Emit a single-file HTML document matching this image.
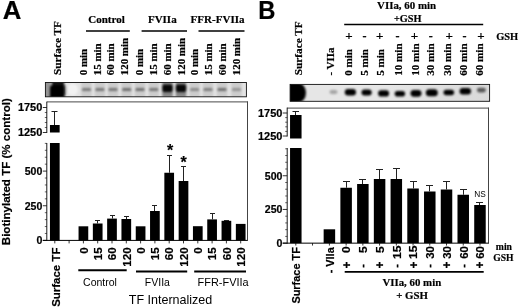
<!DOCTYPE html>
<html><head><meta charset="utf-8"><title>Figure</title>
<style>
html,body{margin:0;padding:0;background:#fff;}
svg{display:block;}
.sf{font-family:'Liberation Serif', serif;}
.ss{font-family:'Liberation Sans', sans-serif;}
.b{font-weight:bold;stroke:#000;stroke-width:0.2px;}
text{fill:#000;}
</style></head>
<body>
<svg width="520" height="308" viewBox="0 0 520 308">
<defs>
<filter id="blurA" x="-5%" y="-50%" width="110%" height="200%"><feGaussianBlur stdDeviation="1.1"/></filter>
<filter id="blurB" x="-5%" y="-50%" width="110%" height="200%"><feGaussianBlur stdDeviation="0.9"/></filter>
<linearGradient id="gB" x1="0" x2="1" y1="0" y2="0"><stop offset="0" stop-color="#e6e6e6"/><stop offset="0.5" stop-color="#e6e6e6"/><stop offset="1" stop-color="#d9d9d9"/></linearGradient>
<clipPath id="clipA"><rect x="45.4" y="82.5" width="201.0" height="14.3"/></clipPath>
<clipPath id="clipB"><rect x="290.1" y="84.4" width="199.5" height="16.9"/></clipPath>
</defs>
<rect x="0" y="0" width="520" height="308" fill="#fff"/>
<text class="ss b" x="2.8" y="19.0" font-size="25.3" text-anchor="start" textLength="18.6" lengthAdjust="spacingAndGlyphs">A</text>
<text class="sf b" transform="translate(60.5,75) rotate(-90)" font-size="11" text-anchor="start" textLength="54" lengthAdjust="spacingAndGlyphs">Surface TF</text>
<text class="sf b" transform="translate(87,75.2) rotate(-90)" font-size="10.9" text-anchor="start">0 min</text>
<text class="sf b" transform="translate(100.53,75.2) rotate(-90)" font-size="10.9" text-anchor="start">15 min</text>
<text class="sf b" transform="translate(114.46,75.2) rotate(-90)" font-size="10.9" text-anchor="start">60 min</text>
<text class="sf b" transform="translate(128.39,75.2) rotate(-90)" font-size="10.9" text-anchor="start">120 min</text>
<text class="sf b" transform="translate(142.72,75.2) rotate(-90)" font-size="10.9" text-anchor="start">0 min</text>
<text class="sf b" transform="translate(156.65,75.2) rotate(-90)" font-size="10.9" text-anchor="start">15 min</text>
<text class="sf b" transform="translate(170.58,75.2) rotate(-90)" font-size="10.9" text-anchor="start">60 min</text>
<text class="sf b" transform="translate(184.51,75.2) rotate(-90)" font-size="10.9" text-anchor="start">120 min</text>
<text class="sf b" transform="translate(198.04,75.2) rotate(-90)" font-size="10.9" text-anchor="start">0 min</text>
<text class="sf b" transform="translate(211.97,75.2) rotate(-90)" font-size="10.9" text-anchor="start">15 min</text>
<text class="sf b" transform="translate(225.9,75.2) rotate(-90)" font-size="10.9" text-anchor="start">60 min</text>
<text class="sf b" transform="translate(239.83,75.2) rotate(-90)" font-size="10.9" text-anchor="start">120 min</text>
<text class="sf b" x="106.5" y="23" font-size="11" text-anchor="middle">Control</text>
<text class="sf b" x="162.3" y="23" font-size="11" text-anchor="middle">FVIIa</text>
<text class="sf b" x="217.6" y="23" font-size="11" text-anchor="middle" textLength="54" lengthAdjust="spacingAndGlyphs">FFR-FVIIa</text>
<line x1="86" y1="31" x2="129.8" y2="31" stroke="#000" stroke-width="1.5"/>
<line x1="141.6" y1="31" x2="187" y2="31" stroke="#000" stroke-width="1.5"/>
<line x1="198.5" y1="31" x2="244.5" y2="31" stroke="#000" stroke-width="1.5"/>
<rect x="45.40" y="82.50" width="201.00" height="14.30" fill="#e3e3e3"/>
<g clip-path="url(#clipA)"><g filter="url(#blurA)">
<rect x="81.30" y="80" width="10.4" height="20" fill="#000" opacity="0.10"/>
<rect x="94.70" y="80" width="10.4" height="20" fill="#000" opacity="0.10"/>
<rect x="107.80" y="80" width="10.4" height="20" fill="#000" opacity="0.10"/>
<rect x="121.50" y="80" width="10.4" height="20" fill="#000" opacity="0.10"/>
<rect x="134.80" y="80" width="10.4" height="20" fill="#000" opacity="0.10"/>
<rect x="148.55" y="80" width="10.4" height="20" fill="#000" opacity="0.10"/>
<rect x="162.30" y="80" width="10.4" height="20" fill="#000" opacity="0.10"/>
<rect x="175.80" y="80" width="10.4" height="20" fill="#000" opacity="0.10"/>
<rect x="189.40" y="80" width="10.4" height="20" fill="#000" opacity="0.10"/>
<rect x="202.80" y="80" width="10.4" height="20" fill="#000" opacity="0.10"/>
<rect x="216.80" y="80" width="10.4" height="20" fill="#000" opacity="0.10"/>
<rect x="231.30" y="80" width="10.4" height="20" fill="#000" opacity="0.10"/>
<rect x="42" y="78" width="9" height="24" fill="#000" opacity="0.35"/>
<rect x="50" y="85" width="14.5" height="20" rx="3" fill="#000"/>
<rect x="52" y="78" width="12" height="12" rx="3" fill="#000" opacity="0.9"/>
<ellipse cx="63.5" cy="90" rx="3.5" ry="6" fill="#000" opacity="0.5"/>
<ellipse cx="72.5" cy="89.5" rx="5.5" ry="6" fill="#fff" opacity="0.55"/>
<rect x="81.90" y="88.1" width="9.2" height="3" rx="1.2" fill="#000" opacity="0.4"/>
<rect x="95.30" y="88.1" width="9.2" height="3" rx="1.2" fill="#000" opacity="0.42"/>
<rect x="108.40" y="88.1" width="9.2" height="3" rx="1.2" fill="#000" opacity="0.42"/>
<rect x="122.10" y="88.1" width="9.2" height="3" rx="1.2" fill="#000" opacity="0.45"/>
<rect x="135.40" y="88.1" width="9.2" height="3" rx="1.2" fill="#000" opacity="0.45"/>
<rect x="149.15" y="88.1" width="9.2" height="3" rx="1.2" fill="#000" opacity="0.42"/>
<rect x="162.20" y="84.5" width="10.6" height="7.5" rx="2" fill="#000" opacity="0.95"/>
<rect x="162.20" y="82" width="10.6" height="15" fill="#000" opacity="0.35"/>
<rect x="175.70" y="84.5" width="10.6" height="7.5" rx="2" fill="#000" opacity="0.95"/>
<rect x="175.70" y="82" width="10.6" height="15" fill="#000" opacity="0.35"/>
<rect x="190.00" y="88.1" width="9.2" height="3" rx="1.2" fill="#000" opacity="0.33"/>
<rect x="203.40" y="88.1" width="9.2" height="3" rx="1.2" fill="#000" opacity="0.38"/>
<rect x="217.40" y="88.1" width="9.2" height="3" rx="1.2" fill="#000" opacity="0.45"/>
<rect x="231.90" y="88.1" width="9.2" height="3" rx="1.2" fill="#000" opacity="0.28"/>
</g></g>
<rect x="45.4" y="82.5" width="201.0" height="14.3" fill="none" stroke="#111" stroke-width="0.9"/>
<line x1="46.8" y1="101.9" x2="248" y2="101.9" stroke="#333" stroke-width="0.9"/>
<line x1="247.5" y1="101.5" x2="247.5" y2="240.9" stroke="#444" stroke-width="1"/>
<line x1="46.8" y1="101.7" x2="46.8" y2="133.0" stroke="#000" stroke-width="0.9"/>
<line x1="46.8" y1="143" x2="46.8" y2="240.9" stroke="#000" stroke-width="0.9"/>
<line x1="42.8" y1="240.4" x2="247.4" y2="240.4" stroke="#000" stroke-width="1"/>
<line x1="42.8" y1="240.4" x2="46.8" y2="240.4" stroke="#000" stroke-width="0.8"/>
<line x1="44.8" y1="233.47" x2="46.8" y2="233.47" stroke="#000" stroke-width="0.6"/>
<line x1="44.8" y1="226.54" x2="46.8" y2="226.54" stroke="#000" stroke-width="0.6"/>
<line x1="44.8" y1="219.61" x2="46.8" y2="219.61" stroke="#000" stroke-width="0.6"/>
<line x1="44.8" y1="212.68" x2="46.8" y2="212.68" stroke="#000" stroke-width="0.6"/>
<line x1="42.8" y1="205.75" x2="46.8" y2="205.75" stroke="#000" stroke-width="0.8"/>
<line x1="44.8" y1="198.82" x2="46.8" y2="198.82" stroke="#000" stroke-width="0.6"/>
<line x1="44.8" y1="191.89" x2="46.8" y2="191.89" stroke="#000" stroke-width="0.6"/>
<line x1="44.8" y1="184.96" x2="46.8" y2="184.96" stroke="#000" stroke-width="0.6"/>
<line x1="44.8" y1="178.03" x2="46.8" y2="178.03" stroke="#000" stroke-width="0.6"/>
<line x1="42.8" y1="171.1" x2="46.8" y2="171.1" stroke="#000" stroke-width="0.8"/>
<line x1="44.8" y1="164.17" x2="46.8" y2="164.17" stroke="#000" stroke-width="0.6"/>
<line x1="44.8" y1="157.24" x2="46.8" y2="157.24" stroke="#000" stroke-width="0.6"/>
<line x1="44.8" y1="150.31" x2="46.8" y2="150.31" stroke="#000" stroke-width="0.6"/>
<line x1="44.8" y1="143.38" x2="46.8" y2="143.38" stroke="#000" stroke-width="0.6"/>
<line x1="42.8" y1="132.5" x2="46.8" y2="132.5" stroke="#000" stroke-width="0.8"/>
<line x1="44.8" y1="127.5" x2="46.8" y2="127.5" stroke="#000" stroke-width="0.6"/>
<line x1="44.8" y1="122.5" x2="46.8" y2="122.5" stroke="#000" stroke-width="0.6"/>
<line x1="44.8" y1="117.5" x2="46.8" y2="117.5" stroke="#000" stroke-width="0.6"/>
<line x1="44.8" y1="112.5" x2="46.8" y2="112.5" stroke="#000" stroke-width="0.6"/>
<line x1="42.8" y1="107.5" x2="46.8" y2="107.5" stroke="#000" stroke-width="0.8"/>
<text class="ss b" x="17.9" y="111.3" font-size="10.5" text-anchor="start" textLength="24.4" lengthAdjust="spacingAndGlyphs">1750</text>
<text class="ss b" x="17.9" y="136.3" font-size="10.5" text-anchor="start" textLength="24.4" lengthAdjust="spacingAndGlyphs">1250</text>
<text class="ss b" x="24.7" y="174.9" font-size="10.5" text-anchor="start" textLength="17.6" lengthAdjust="spacingAndGlyphs">500</text>
<text class="ss b" x="24.7" y="209.55" font-size="10.5" text-anchor="start" textLength="17.6" lengthAdjust="spacingAndGlyphs">250</text>
<text class="ss b" x="36.4" y="244.2" font-size="10.5" text-anchor="start" textLength="5.9" lengthAdjust="spacingAndGlyphs">0</text>
<text class="ss b" transform="translate(9.9,245.2) rotate(-90)" font-size="11" text-anchor="start" textLength="147.0" lengthAdjust="spacingAndGlyphs">Biotinylated TF (% control)</text>
<rect x="78.55" y="226.30" width="9.70" height="14.10" fill="#000"/>
<rect x="92.85" y="223.50" width="9.70" height="16.90" fill="#000"/>
<line x1="97.5" y1="220.5" x2="97.5" y2="223.5" stroke="#222" stroke-width="1"/>
<line x1="95.0" y1="220.5" x2="100.0" y2="220.5" stroke="#222" stroke-width="1"/>
<rect x="107.15" y="218.60" width="9.70" height="21.80" fill="#000"/>
<line x1="112.5" y1="215.5" x2="112.5" y2="218.6" stroke="#222" stroke-width="1"/>
<line x1="110.0" y1="215.5" x2="115.0" y2="215.5" stroke="#222" stroke-width="1"/>
<rect x="121.45" y="219.00" width="9.70" height="21.40" fill="#000"/>
<line x1="126.5" y1="216.5" x2="126.5" y2="219" stroke="#222" stroke-width="1"/>
<line x1="124.0" y1="216.5" x2="129.0" y2="216.5" stroke="#222" stroke-width="1"/>
<rect x="135.75" y="226.30" width="9.70" height="14.10" fill="#000"/>
<rect x="150.05" y="211.00" width="9.70" height="29.40" fill="#000"/>
<line x1="154.5" y1="205.5" x2="154.5" y2="211" stroke="#222" stroke-width="1"/>
<line x1="152.0" y1="205.5" x2="157.0" y2="205.5" stroke="#222" stroke-width="1"/>
<rect x="164.35" y="172.75" width="9.70" height="67.65" fill="#000"/>
<line x1="169.5" y1="155.5" x2="169.5" y2="172.75" stroke="#222" stroke-width="1"/>
<line x1="167.0" y1="155.5" x2="172.0" y2="155.5" stroke="#222" stroke-width="1"/>
<rect x="178.65" y="181.00" width="9.70" height="59.40" fill="#000"/>
<line x1="183.5" y1="166.5" x2="183.5" y2="181" stroke="#222" stroke-width="1"/>
<line x1="181.0" y1="166.5" x2="186.0" y2="166.5" stroke="#222" stroke-width="1"/>
<rect x="192.95" y="226.20" width="9.70" height="14.20" fill="#000"/>
<rect x="207.25" y="219.40" width="9.70" height="21.00" fill="#000"/>
<line x1="212.5" y1="213.5" x2="212.5" y2="219.4" stroke="#222" stroke-width="1"/>
<line x1="210.0" y1="213.5" x2="215.0" y2="213.5" stroke="#222" stroke-width="1"/>
<rect x="221.55" y="220.80" width="9.70" height="19.60" fill="#000"/>
<line x1="226.5" y1="220.5" x2="226.5" y2="220.8" stroke="#222" stroke-width="1"/>
<line x1="224.0" y1="220.5" x2="229.0" y2="220.5" stroke="#222" stroke-width="1"/>
<rect x="235.85" y="223.90" width="9.70" height="16.50" fill="#000"/>
<rect x="49.95" y="143.00" width="9.70" height="97.40" fill="#000"/>
<rect x="49.95" y="125.00" width="9.70" height="7.50" fill="#000"/>
<line x1="54.5" y1="111.5" x2="54.5" y2="125" stroke="#222" stroke-width="1"/>
<line x1="51.5" y1="111.5" x2="57.5" y2="111.5" stroke="#222" stroke-width="1"/>
<line x1="54.8" y1="240.4" x2="54.8" y2="243.4" stroke="#000" stroke-width="0.8"/>
<line x1="69.1" y1="240.4" x2="69.1" y2="243.4" stroke="#000" stroke-width="0.8"/>
<line x1="83.4" y1="240.4" x2="83.4" y2="243.4" stroke="#000" stroke-width="0.8"/>
<line x1="97.7" y1="240.4" x2="97.7" y2="243.4" stroke="#000" stroke-width="0.8"/>
<line x1="112.0" y1="240.4" x2="112.0" y2="243.4" stroke="#000" stroke-width="0.8"/>
<line x1="126.3" y1="240.4" x2="126.3" y2="243.4" stroke="#000" stroke-width="0.8"/>
<line x1="140.6" y1="240.4" x2="140.6" y2="243.4" stroke="#000" stroke-width="0.8"/>
<line x1="154.9" y1="240.4" x2="154.9" y2="243.4" stroke="#000" stroke-width="0.8"/>
<line x1="169.2" y1="240.4" x2="169.2" y2="243.4" stroke="#000" stroke-width="0.8"/>
<line x1="183.5" y1="240.4" x2="183.5" y2="243.4" stroke="#000" stroke-width="0.8"/>
<line x1="197.8" y1="240.4" x2="197.8" y2="243.4" stroke="#000" stroke-width="0.8"/>
<line x1="212.1" y1="240.4" x2="212.1" y2="243.4" stroke="#000" stroke-width="0.8"/>
<line x1="226.4" y1="240.4" x2="226.4" y2="243.4" stroke="#000" stroke-width="0.8"/>
<line x1="240.7" y1="240.4" x2="240.7" y2="243.4" stroke="#000" stroke-width="0.8"/>
<text class="ss b" x="170" y="155.5" font-size="16" text-anchor="middle">*</text>
<text class="ss b" x="183.5" y="168.2" font-size="16" text-anchor="middle">*</text>
<text class="ss b" transform="translate(60.2,306.8) rotate(-90)" font-size="11.8" text-anchor="start" textLength="59.2" lengthAdjust="spacingAndGlyphs">Surface TF</text>
<text class="ss b" transform="translate(87.6,247.3) rotate(-90)" font-size="11.6" text-anchor="end">0</text>
<text class="ss b" transform="translate(101.9,247.3) rotate(-90)" font-size="11.6" text-anchor="end">15</text>
<text class="ss b" transform="translate(116.2,247.3) rotate(-90)" font-size="11.6" text-anchor="end">60</text>
<text class="ss b" transform="translate(130.5,247.3) rotate(-90)" font-size="11.6" text-anchor="end">120</text>
<text class="ss b" transform="translate(144.8,247.3) rotate(-90)" font-size="11.6" text-anchor="end">0</text>
<text class="ss b" transform="translate(159.1,247.3) rotate(-90)" font-size="11.6" text-anchor="end">15</text>
<text class="ss b" transform="translate(173.4,247.3) rotate(-90)" font-size="11.6" text-anchor="end">60</text>
<text class="ss b" transform="translate(187.7,247.3) rotate(-90)" font-size="11.6" text-anchor="end">120</text>
<text class="ss b" transform="translate(202.0,247.3) rotate(-90)" font-size="11.6" text-anchor="end">0</text>
<text class="ss b" transform="translate(216.3,247.3) rotate(-90)" font-size="11.6" text-anchor="end">15</text>
<text class="ss b" transform="translate(230.6,247.3) rotate(-90)" font-size="11.6" text-anchor="end">60</text>
<text class="ss b" transform="translate(244.9,247.3) rotate(-90)" font-size="11.6" text-anchor="end">120</text>
<line x1="78.3" y1="270.3" x2="126.7" y2="270.3" stroke="#000" stroke-width="2"/>
<line x1="136" y1="271.5" x2="187.2" y2="271.5" stroke="#000" stroke-width="2"/>
<line x1="194.2" y1="271.5" x2="246" y2="271.5" stroke="#000" stroke-width="2"/>
<text class="ss" x="100" y="286.2" font-size="10.5" text-anchor="middle">Control</text>
<text class="ss" x="157.4" y="286.3" font-size="10.5" text-anchor="middle">FVIIa</text>
<text class="ss" x="197.6" y="286.2" font-size="10.5" text-anchor="start" textLength="51" lengthAdjust="spacingAndGlyphs">FFR-FVIIa</text>
<text class="ss" x="128.8" y="304.1" font-size="13" text-anchor="start" textLength="83.5" lengthAdjust="spacingAndGlyphs">TF Internalized</text>
<text class="ss b" x="258.3" y="19.0" font-size="25.3" text-anchor="start" textLength="17.2" lengthAdjust="spacingAndGlyphs">B</text>
<text class="sf b" transform="translate(302,75.3) rotate(-90)" font-size="11" text-anchor="start" textLength="54" lengthAdjust="spacingAndGlyphs">Surface TF</text>
<text class="sf b" transform="translate(334.3,75.6) rotate(-90)" font-size="11" text-anchor="start">- VIIa</text>
<text class="sf b" transform="translate(352.3,75.8) rotate(-90)" font-size="11.1" text-anchor="start">0 min</text>
<text class="sf b" x="348.9" y="39.7" font-size="13" text-anchor="middle">+</text>
<text class="sf b" transform="translate(367.9,75.8) rotate(-90)" font-size="11.1" text-anchor="start">5 min</text>
<text class="sf b" x="364.5" y="40.2" font-size="12" text-anchor="middle">-</text>
<text class="sf b" transform="translate(384.3,75.8) rotate(-90)" font-size="11.1" text-anchor="start">5 min</text>
<text class="sf b" x="379.6" y="39.7" font-size="13" text-anchor="middle">+</text>
<text class="sf b" transform="translate(401.6,75.8) rotate(-90)" font-size="11.1" text-anchor="start">10 min</text>
<text class="sf b" x="397.5" y="40.2" font-size="12" text-anchor="middle">-</text>
<text class="sf b" transform="translate(418.5,75.8) rotate(-90)" font-size="11.1" text-anchor="start">10 min</text>
<text class="sf b" x="414.4" y="39.7" font-size="13" text-anchor="middle">+</text>
<text class="sf b" transform="translate(434,75.8) rotate(-90)" font-size="11.1" text-anchor="start">30 min</text>
<text class="sf b" x="430.7" y="40.2" font-size="12" text-anchor="middle">-</text>
<text class="sf b" transform="translate(450.5,75.8) rotate(-90)" font-size="11.1" text-anchor="start">30 min</text>
<text class="sf b" x="449.2" y="39.7" font-size="13" text-anchor="middle">+</text>
<text class="sf b" transform="translate(467.4,75.8) rotate(-90)" font-size="11.1" text-anchor="start">60 min</text>
<text class="sf b" x="464.6" y="40.2" font-size="12" text-anchor="middle">-</text>
<text class="sf b" transform="translate(482.8,75.8) rotate(-90)" font-size="11.1" text-anchor="start">60 min</text>
<text class="sf b" x="480.9" y="39.7" font-size="13" text-anchor="middle">+</text>
<text class="sf b" x="377.0" y="8.9" font-size="11" text-anchor="start" textLength="59.2" lengthAdjust="spacingAndGlyphs">VIIa, 60 min</text>
<text class="sf b" x="393.9" y="21.6" font-size="11" text-anchor="start" textLength="27.6" lengthAdjust="spacingAndGlyphs">+GSH</text>
<line x1="344.2" y1="24.5" x2="483.2" y2="24.5" stroke="#000" stroke-width="1.5"/>
<text class="sf b" x="496.2" y="39.7" font-size="11" text-anchor="start" textLength="22" lengthAdjust="spacingAndGlyphs">GSH</text>
<rect x="290.10" y="84.40" width="199.50" height="16.90" fill="url(#gB)"/>
<g clip-path="url(#clipB)"><g filter="url(#blurB)">
<rect x="284" y="80" width="14" height="26" fill="#000"/>
<ellipse cx="298" cy="92.8" rx="8" ry="10" fill="#000"/>
<ellipse cx="333.5" cy="92" rx="4" ry="2.2" fill="#000" opacity="0.28"/>
<rect x="344.80" y="89.10" width="11.2" height="6.4" rx="3.20" fill="#000" opacity="1"/>
<rect x="361.50" y="89.60" width="10.2" height="6" rx="3.00" fill="#000" opacity="1"/>
<rect x="378.10" y="90.30" width="11" height="6.2" rx="3.10" fill="#000" opacity="1"/>
<rect x="394.70" y="91.00" width="10.4" height="5.6" rx="2.80" fill="#000" opacity="1"/>
<rect x="410.50" y="89.90" width="11" height="6.8" rx="3.40" fill="#000" opacity="1"/>
<rect x="425.80" y="89.20" width="12" height="7" rx="3.50" fill="#000" opacity="1"/>
<rect x="443.50" y="89.70" width="10.6" height="5.6" rx="2.80" fill="#000" opacity="1"/>
<rect x="459.60" y="88.00" width="11.4" height="6.4" rx="3.20" fill="#000" opacity="1"/>
<rect x="476.90" y="87.80" width="9" height="4.6" rx="2.30" fill="#000" opacity="0.6"/>
</g></g>
<rect x="290.1" y="84.4" width="199.5" height="16.9" fill="none" stroke="#111" stroke-width="0.9"/>
<line x1="287.2" y1="108.1" x2="489" y2="108.1" stroke="#333" stroke-width="0.9"/>
<line x1="488.5" y1="107.7" x2="488.5" y2="243.65" stroke="#444" stroke-width="1"/>
<line x1="287.2" y1="107.6" x2="287.2" y2="136.5" stroke="#000" stroke-width="0.9"/>
<line x1="287.2" y1="148" x2="287.2" y2="243.65" stroke="#000" stroke-width="0.9"/>
<line x1="282.7" y1="243.15" x2="488.5" y2="243.15" stroke="#000" stroke-width="1"/>
<line x1="282.7" y1="243.15" x2="287.2" y2="243.15" stroke="#000" stroke-width="0.8"/>
<line x1="285.2" y1="236.41" x2="287.2" y2="236.41" stroke="#000" stroke-width="0.6"/>
<line x1="285.2" y1="229.67" x2="287.2" y2="229.67" stroke="#000" stroke-width="0.6"/>
<line x1="285.2" y1="222.93" x2="287.2" y2="222.93" stroke="#000" stroke-width="0.6"/>
<line x1="285.2" y1="216.19" x2="287.2" y2="216.19" stroke="#000" stroke-width="0.6"/>
<line x1="282.7" y1="209.45" x2="287.2" y2="209.45" stroke="#000" stroke-width="0.8"/>
<line x1="285.2" y1="202.71" x2="287.2" y2="202.71" stroke="#000" stroke-width="0.6"/>
<line x1="285.2" y1="195.97" x2="287.2" y2="195.97" stroke="#000" stroke-width="0.6"/>
<line x1="285.2" y1="189.23" x2="287.2" y2="189.23" stroke="#000" stroke-width="0.6"/>
<line x1="285.2" y1="182.49" x2="287.2" y2="182.49" stroke="#000" stroke-width="0.6"/>
<line x1="282.7" y1="175.75" x2="287.2" y2="175.75" stroke="#000" stroke-width="0.8"/>
<line x1="285.2" y1="169.01" x2="287.2" y2="169.01" stroke="#000" stroke-width="0.6"/>
<line x1="285.2" y1="162.27" x2="287.2" y2="162.27" stroke="#000" stroke-width="0.6"/>
<line x1="285.2" y1="155.53" x2="287.2" y2="155.53" stroke="#000" stroke-width="0.6"/>
<line x1="285.2" y1="148.79" x2="287.2" y2="148.79" stroke="#000" stroke-width="0.6"/>
<line x1="282.7" y1="136.0" x2="287.2" y2="136.0" stroke="#000" stroke-width="0.8"/>
<line x1="285.2" y1="131.4" x2="287.2" y2="131.4" stroke="#000" stroke-width="0.6"/>
<line x1="285.2" y1="126.8" x2="287.2" y2="126.8" stroke="#000" stroke-width="0.6"/>
<line x1="285.2" y1="122.2" x2="287.2" y2="122.2" stroke="#000" stroke-width="0.6"/>
<line x1="285.2" y1="117.6" x2="287.2" y2="117.6" stroke="#000" stroke-width="0.6"/>
<line x1="282.7" y1="113.0" x2="287.2" y2="113.0" stroke="#000" stroke-width="0.8"/>
<text class="ss b" x="258.0" y="116.8" font-size="10.5" text-anchor="start" textLength="24.4" lengthAdjust="spacingAndGlyphs">1750</text>
<text class="ss b" x="258.0" y="139.8" font-size="10.5" text-anchor="start" textLength="24.4" lengthAdjust="spacingAndGlyphs">1250</text>
<text class="ss b" x="264.8" y="179.55" font-size="10.5" text-anchor="start" textLength="17.6" lengthAdjust="spacingAndGlyphs">500</text>
<text class="ss b" x="264.8" y="213.25" font-size="10.5" text-anchor="start" textLength="17.6" lengthAdjust="spacingAndGlyphs">250</text>
<text class="ss b" x="276.5" y="246.95" font-size="10.5" text-anchor="start" textLength="5.9" lengthAdjust="spacingAndGlyphs">0</text>
<rect x="323.65" y="229.30" width="11.50" height="13.85" fill="#000"/>
<rect x="340.38" y="187.75" width="11.50" height="55.40" fill="#000"/>
<line x1="346.5" y1="181.5" x2="346.5" y2="187.75" stroke="#222" stroke-width="1"/>
<line x1="343.0" y1="181.5" x2="350.0" y2="181.5" stroke="#222" stroke-width="1"/>
<rect x="357.11" y="184.00" width="11.50" height="59.15" fill="#000"/>
<line x1="362.5" y1="179.5" x2="362.5" y2="184" stroke="#222" stroke-width="1"/>
<line x1="359.0" y1="179.5" x2="366.0" y2="179.5" stroke="#222" stroke-width="1"/>
<rect x="373.84" y="179.00" width="11.50" height="64.15" fill="#000"/>
<line x1="379.5" y1="169.5" x2="379.5" y2="179" stroke="#222" stroke-width="1"/>
<line x1="376.0" y1="169.5" x2="383.0" y2="169.5" stroke="#222" stroke-width="1"/>
<rect x="390.57" y="179.00" width="11.50" height="64.15" fill="#000"/>
<line x1="396.5" y1="168.5" x2="396.5" y2="179" stroke="#222" stroke-width="1"/>
<line x1="393.0" y1="168.5" x2="400.0" y2="168.5" stroke="#222" stroke-width="1"/>
<rect x="407.30" y="188.50" width="11.50" height="54.65" fill="#000"/>
<line x1="413.5" y1="181.5" x2="413.5" y2="188.5" stroke="#222" stroke-width="1"/>
<line x1="410.0" y1="181.5" x2="417.0" y2="181.5" stroke="#222" stroke-width="1"/>
<rect x="424.03" y="191.50" width="11.50" height="51.65" fill="#000"/>
<line x1="429.5" y1="185.5" x2="429.5" y2="191.5" stroke="#222" stroke-width="1"/>
<line x1="426.0" y1="185.5" x2="433.0" y2="185.5" stroke="#222" stroke-width="1"/>
<rect x="440.76" y="189.50" width="11.50" height="53.65" fill="#000"/>
<line x1="446.5" y1="181.5" x2="446.5" y2="189.5" stroke="#222" stroke-width="1"/>
<line x1="443.0" y1="181.5" x2="450.0" y2="181.5" stroke="#222" stroke-width="1"/>
<rect x="457.49" y="194.75" width="11.50" height="48.40" fill="#000"/>
<line x1="463.5" y1="189.5" x2="463.5" y2="194.75" stroke="#222" stroke-width="1"/>
<line x1="460.0" y1="189.5" x2="467.0" y2="189.5" stroke="#222" stroke-width="1"/>
<rect x="474.22" y="205.00" width="11.50" height="38.15" fill="#000"/>
<line x1="479.5" y1="202.5" x2="479.5" y2="205" stroke="#222" stroke-width="1"/>
<line x1="476.0" y1="202.5" x2="483.0" y2="202.5" stroke="#222" stroke-width="1"/>
<rect x="290.05" y="148.00" width="11.50" height="95.15" fill="#000"/>
<rect x="290.05" y="115.00" width="11.50" height="23.50" fill="#000"/>
<line x1="295.5" y1="111.5" x2="295.5" y2="115" stroke="#222" stroke-width="1"/>
<line x1="292.5" y1="111.5" x2="299" y2="111.5" stroke="#222" stroke-width="1"/>
<line x1="295.8" y1="243.15" x2="295.8" y2="245.55" stroke="#000" stroke-width="0.8"/>
<line x1="312.53" y1="243.15" x2="312.53" y2="245.55" stroke="#000" stroke-width="0.8"/>
<line x1="329.4" y1="243.15" x2="329.4" y2="245.55" stroke="#000" stroke-width="0.8"/>
<line x1="346.13" y1="243.15" x2="346.13" y2="245.55" stroke="#000" stroke-width="0.8"/>
<line x1="362.86" y1="243.15" x2="362.86" y2="245.55" stroke="#000" stroke-width="0.8"/>
<line x1="379.59" y1="243.15" x2="379.59" y2="245.55" stroke="#000" stroke-width="0.8"/>
<line x1="396.32" y1="243.15" x2="396.32" y2="245.55" stroke="#000" stroke-width="0.8"/>
<line x1="413.05" y1="243.15" x2="413.05" y2="245.55" stroke="#000" stroke-width="0.8"/>
<line x1="429.78" y1="243.15" x2="429.78" y2="245.55" stroke="#000" stroke-width="0.8"/>
<line x1="446.51" y1="243.15" x2="446.51" y2="245.55" stroke="#000" stroke-width="0.8"/>
<line x1="463.24" y1="243.15" x2="463.24" y2="245.55" stroke="#000" stroke-width="0.8"/>
<line x1="479.97" y1="243.15" x2="479.97" y2="245.55" stroke="#000" stroke-width="0.8"/>
<text class="ss" x="480" y="196.7" font-size="8.3" text-anchor="middle">NS</text>
<text class="ss b" transform="translate(300.3,303.6) rotate(-90)" font-size="11.7" text-anchor="start" textLength="56.5" lengthAdjust="spacingAndGlyphs">Surface TF</text>
<text class="ss b" transform="translate(333.9,247.3) rotate(-90)" font-size="10.9" text-anchor="end">- VIIa</text>
<text class="ss b" transform="translate(350.43,246.4) rotate(-90)" font-size="11.4" text-anchor="end" textLength="6.7" lengthAdjust="spacingAndGlyphs">0</text>
<text class="ss b" transform="translate(350.63,261.5) rotate(-90)" font-size="12" text-anchor="end">+</text>
<text class="ss b" transform="translate(367.16,246.4) rotate(-90)" font-size="11.4" text-anchor="end" textLength="6.7" lengthAdjust="spacingAndGlyphs">5</text>
<text class="ss b" transform="translate(366.46,264.1) rotate(-90)" font-size="11" text-anchor="end">-</text>
<text class="ss b" transform="translate(383.89,246.4) rotate(-90)" font-size="11.4" text-anchor="end" textLength="6.7" lengthAdjust="spacingAndGlyphs">5</text>
<text class="ss b" transform="translate(384.09,261.5) rotate(-90)" font-size="12" text-anchor="end">+</text>
<text class="ss b" transform="translate(400.62,245.5) rotate(-90)" font-size="11.4" text-anchor="end" textLength="13.5" lengthAdjust="spacingAndGlyphs">15</text>
<text class="ss b" transform="translate(399.92,264.1) rotate(-90)" font-size="11" text-anchor="end">-</text>
<text class="ss b" transform="translate(417.35,245.5) rotate(-90)" font-size="11.4" text-anchor="end" textLength="13.5" lengthAdjust="spacingAndGlyphs">15</text>
<text class="ss b" transform="translate(417.55,261.5) rotate(-90)" font-size="12" text-anchor="end">+</text>
<text class="ss b" transform="translate(434.08,246.2) rotate(-90)" font-size="11.4" text-anchor="end" textLength="12.6" lengthAdjust="spacingAndGlyphs">30</text>
<text class="ss b" transform="translate(433.38,264.1) rotate(-90)" font-size="11" text-anchor="end">-</text>
<text class="ss b" transform="translate(450.81,246.2) rotate(-90)" font-size="11.4" text-anchor="end" textLength="12.6" lengthAdjust="spacingAndGlyphs">30</text>
<text class="ss b" transform="translate(451.01,261.5) rotate(-90)" font-size="12" text-anchor="end">+</text>
<text class="ss b" transform="translate(467.54,246.2) rotate(-90)" font-size="11.4" text-anchor="end" textLength="12.6" lengthAdjust="spacingAndGlyphs">60</text>
<text class="ss b" transform="translate(466.84,264.1) rotate(-90)" font-size="11" text-anchor="end">-</text>
<text class="ss b" transform="translate(484.27,246.2) rotate(-90)" font-size="11.4" text-anchor="end" textLength="12.6" lengthAdjust="spacingAndGlyphs">60</text>
<text class="ss b" transform="translate(484.47,261.5) rotate(-90)" font-size="12" text-anchor="end">+</text>
<text class="sf b" x="495.8" y="250" font-size="10.5" text-anchor="start" textLength="16.2" lengthAdjust="spacingAndGlyphs">min</text>
<text class="sf b" x="493.2" y="261" font-size="10.5" text-anchor="start" textLength="20.3" lengthAdjust="spacingAndGlyphs">GSH</text>
<line x1="344.7" y1="271.8" x2="483.7" y2="271.8" stroke="#000" stroke-width="1.8"/>
<text class="sf b" x="382.4" y="286.1" font-size="11" text-anchor="start" textLength="58.8" lengthAdjust="spacingAndGlyphs">VIIa, 60 min</text>
<text class="sf b" x="396.2" y="298.6" font-size="11" text-anchor="start" textLength="31.8" lengthAdjust="spacingAndGlyphs">+ GSH</text>
</svg>
</body></html>
